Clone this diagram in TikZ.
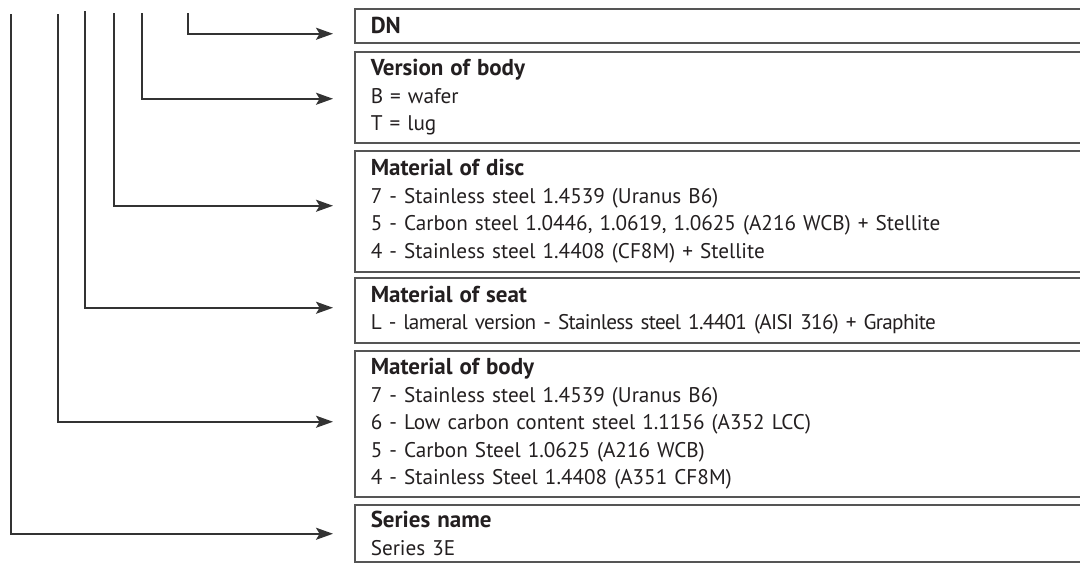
\documentclass[tikz,border=0pt]{standalone}
\usepackage{fontspec}
\setmainfont[WordSpace=0.6]{PT Sans}
\usetikzlibrary{arrows.meta, calc, positioning}
\definecolor{lineGray}{HTML}{333333}
\definecolor{boxGray}{HTML}{555555}
\definecolor{textGray}{HTML}{231F20}
\tikzset{
    codeBox/.style={draw=boxGray, line width=0.75pt, anchor=north west, align=left,
        minimum width=368pt, text width=352pt, inner xsep=8pt, inner ysep=0pt,
        text=textGray, font=\fontsize{10.6pt}{13.75pt}\selectfont},
    codeArrow/.style={-{Stealth[length=8.5pt, width=6pt, inset=1.8pt]}, draw=lineGray, line width=1pt},
}
\newcommand{\boxTitle}[1]{{\fontsize{11.5pt}{13.75pt}\selectfont\textbf{#1}}}
\newcommand{\codeLink}[3]{
    \draw[codeArrow] (#1) |- ($(#2.west)+(-21,#3)$);
}

\begin{document}
\begin{tikzpicture}[x=0.5pt, y=-0.5pt]
        \useasboundingbox (0,0) rectangle (1080,562);

        \node[codeBox, minimum height=17pt] (dn) at (354,8) {\boxTitle{DN}};
        \node[codeBox, minimum height=45.5pt] (ver) at (354,51) {\boxTitle{Version of body}\\B = wafer\\T = lug};
        \node[codeBox, minimum height=60.5pt] (disc) at (354,150) {\boxTitle{Material of disc}\\7 - Stainless steel 1.4539 (Uranus B6)\\5 - Carbon steel 1.0446, 1.0619, 1.0625 (A216 WCB) + Stellite\\4 - Stainless steel 1.4408 (CF8M) + Stellite};
        \node[codeBox, minimum height=32.5pt] (seat) at (354,277) {\boxTitle{Material of seat}\\{\addfontfeatures{LetterSpace=-3.3}L - lameral version - Stainless steel 1.4401 (AISI 316) + Graphite}};
        \node[codeBox, minimum height=73pt] (body) at (354,350) {\boxTitle{Material of body}\\7 - Stainless steel 1.4539 (Uranus B6)\\6 - Low carbon content steel 1.1156 (A352 LCC)\\5 - Carbon Steel 1.0625 (A216 WCB)\\4 - Stainless Steel 1.4408 (A351 CF8M)};
        \node[codeBox, minimum height=28.5pt] (series) at (354,504) {\boxTitle{Series name}\\Series 3E};

        % tops of the code lines
        \coordinate (tDN) at (188,13);
        \coordinate (tVer) at (142,13);
        \coordinate (tDisc) at (114,13);
        \coordinate (tSeat) at (85,11);
        \coordinate (tBody) at (58,14);
        \coordinate (tSeries) at (11,14);

        \codeLink{tDN}{dn}{8}
        \codeLink{tVer}{ver}{1.5}
        \codeLink{tDisc}{disc}{-5.5}
        \codeLink{tSeat}{seat}{-2.5}
        \codeLink{tBody}{body}{-2}
        \codeLink{tSeries}{series}{0.5}

    \end{tikzpicture}
\end{document}
